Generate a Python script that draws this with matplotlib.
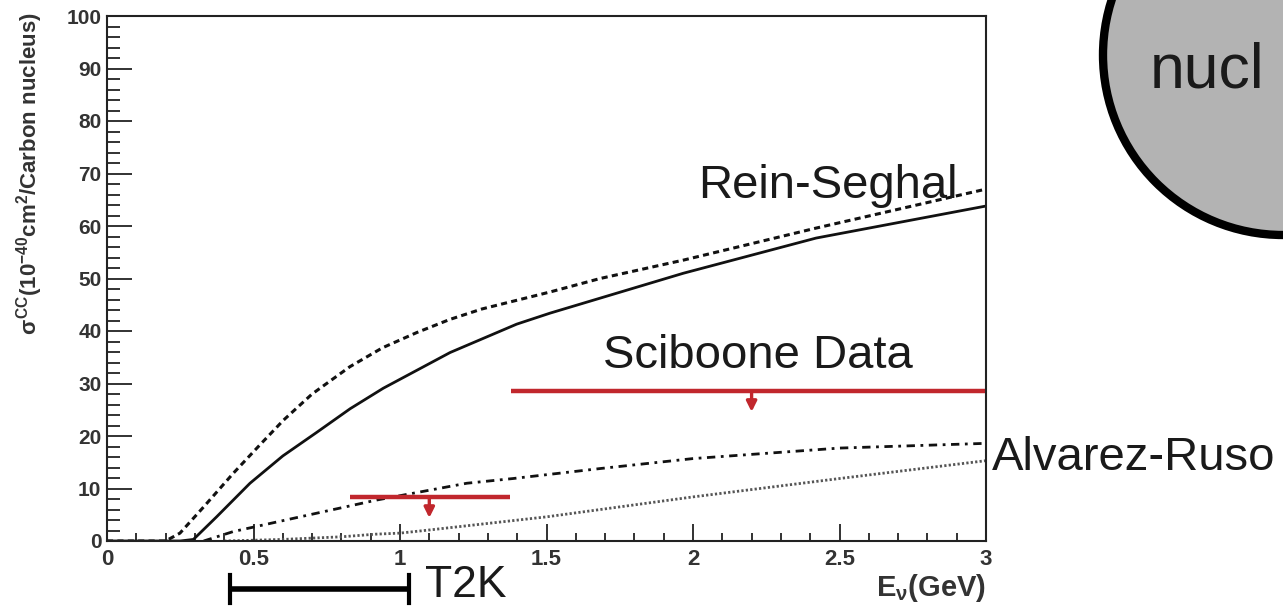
import matplotlib
matplotlib.use('Agg')
import matplotlib.pyplot as plt
from matplotlib.patches import Circle
from matplotlib.ticker import MultipleLocator

plt.rcParams['font.family'] = ['Liberation Sans', 'DejaVu Sans']
plt.rcParams['mathtext.fontset'] = 'custom'
plt.rcParams['mathtext.rm'] = 'Liberation Sans:bold'
plt.rcParams['mathtext.it'] = 'Liberation Sans:bold'
plt.rcParams['mathtext.bf'] = 'Liberation Sans:bold'

# Rein-Sehgal, upper (dashed)
rs_up_e = [0.0, 0.20, 0.249, 0.33, 0.431, 0.52, 0.602, 0.70, 0.829, 0.94, 1.057, 1.17, 1.28, 1.51, 1.683, 1.967, 2.42, 2.99, 3.0]
rs_up_xs = [0.0, 0.0, 1.5, 6.5, 12.9, 18.2, 23.0, 28.0, 33.2, 36.8, 39.7, 42.2, 44.2, 47.4, 50.0, 53.5, 59.6, 66.9, 67.0]
# Rein-Sehgal, lower (solid)
rs_e = [0.0, 0.25, 0.295, 0.374, 0.488, 0.60, 0.716, 0.83, 0.943, 1.171, 1.398, 1.512, 1.967, 2.42, 2.99, 3.0]
rs_xs = [0.0, 0.0, 0.3, 4.6, 11.0, 16.2, 20.7, 25.2, 29.1, 35.9, 41.3, 43.4, 51.0, 57.7, 63.7, 63.8]
# Alvarez-Ruso, upper (dash-dot)
ar_up_e = [0.33, 0.431, 0.659, 0.920, 1.228, 1.386, 1.683, 2.0, 2.5, 3.0]
ar_up_xs = [0.0, 1.8, 4.6, 7.8, 11.0, 11.9, 13.8, 15.7, 17.7, 18.6]
# Alvarez-Ruso, lower (dotted)
ar_e = [0.40, 0.60, 0.80, 0.917, 1.0, 1.1, 1.5, 2.0, 2.5, 3.0]
ar_xs = [0.0, 0.3, 0.8, 1.3, 1.5, 2.1, 4.6, 8.4, 11.9, 15.3]

# SciBooNE upper limits
sb_lo = [0.83, 1.38]
sb_hi = [1.375, 3.0]
sb_limit = [8.4, 28.6]
sb_center = [1.10, 2.2]
sb_arrow_to = [4.4, 24.6]

# T2K flux range
t2k_range = [0.42, 1.03]

xticks = [0, 0.5, 1, 1.5, 2, 2.5, 3]
xtick_labels = ['0', '0.5', '1', '1.5', '2', '2.5', '3']
yticks = [0, 10, 20, 30, 40, 50, 60, 70, 80, 90, 100]
ytick_labels = [str(v) for v in yticks]

red = '#c1272d'
txt = '#1a1a1a'

fig = plt.figure(figsize=(12.83, 6.08), dpi=100)
fig.patch.set_facecolor('white')

# overlay in pixel coordinates for the circle
ov = fig.add_axes([0, 0, 1, 1], zorder=-1)
ov.set_xlim(0, 1283)
ov.set_ylim(608, 0)
ov.axis('off')
ov.add_patch(Circle((1283, 55), 180, facecolor='#b3b3b3', edgecolor='black', lw=6))
ov.text(1150, 88, 'nucl', fontsize=45, color=txt, ha='left', va='baseline')

ax = fig.add_axes([107/1283, 67/608, 879/1283, 525/608])
ax.set_facecolor('white')

ax.plot(rs_up_e, rs_up_xs, color='#111', lw=2.2, linestyle=(0, (2.0, 1.4)))
ax.plot(rs_e, rs_xs, color='#111', lw=2.0)
ax.plot(ar_up_e, ar_up_xs, color='#111', lw=2.0, linestyle=(0, (3, 2, 1, 2)))
ax.plot(ar_e, ar_xs, color='#555', lw=2.0, linestyle=(0, (0.8, 0.8)))

for lo, hi, lim, c, to in zip(sb_lo, sb_hi, sb_limit, sb_center, sb_arrow_to):
    ax.plot([lo, hi], [lim, lim], color=red, lw=3.2, solid_capstyle='butt', clip_on=False)
    ax.annotate('', xy=(c, to), xytext=(c, lim),
                arrowprops=dict(arrowstyle='-|>', color=red, lw=2.4, mutation_scale=15,
                                shrinkA=0, shrinkB=0))

ax.set_xlim(0, 3)
ax.set_ylim(0, 100)
ax.set_xticks(xticks)
ax.set_xticklabels(xtick_labels)
ax.set_yticks(yticks)
ax.set_yticklabels(ytick_labels)
ax.xaxis.set_minor_locator(MultipleLocator(0.1))
ax.yaxis.set_minor_locator(MultipleLocator(2))
ax.tick_params(axis='both', which='both', direction='in', top=False, right=False,
               colors='#222', labelcolor='#333')
ax.tick_params(axis='x', which='major', length=12, width=1.3, pad=6, labelsize=16)
ax.tick_params(axis='x', which='minor', length=6, width=1.3)
ax.tick_params(axis='y', which='major', length=18, width=1.3, pad=4, labelsize=15)
ax.tick_params(axis='y', which='minor', length=9.5, width=1.3)
for lab in ax.get_xticklabels() + ax.get_yticklabels():
    lab.set_fontweight('bold')
for sp in ax.spines.values():
    sp.set_linewidth(1.5)
    sp.set_color('#222')

ax.set_ylabel(r'$\sigma^{CC}$(10$^{-40}$cm$^{2}$/Carbon nucleus)', fontsize=16,
              fontweight='bold', color='#333', va='center', ha='center')
ax.yaxis.set_label_coords(-0.088, 0.70)
ax.text(1.0, -0.09, r'E$_{\nu}$(GeV)', transform=ax.transAxes, fontsize=21,
        fontweight='bold', color='#333', ha='right', va='center')

ax.text(2.017, 65.3, 'Rein-Seghal', fontsize=34, color=txt, ha='left', va='baseline')
ax.text(1.693, 33.0, 'Sciboone Data', fontsize=34, color=txt, ha='left', va='baseline')
ax.text(3.02, 13.5, 'Alvarez-Ruso', fontsize=34, color=txt, ha='left', va='baseline', clip_on=False)

# T2K range bar below the axis
tr = ax.get_xaxis_transform()
ax.plot(t2k_range, [-0.0914, -0.0914], color='black', lw=4, transform=tr, clip_on=False,
        solid_capstyle='butt')
for e in t2k_range:
    ax.plot([e, e], [-0.065, -0.118], color='black', lw=3, transform=tr, clip_on=False)
ax.text(t2k_range[1] + 0.055, -0.107, 'T2K', transform=tr, fontsize=32, color=txt,
        ha='left', va='baseline', clip_on=False)

fig.savefig('out.png', dpi=100, facecolor='white')
